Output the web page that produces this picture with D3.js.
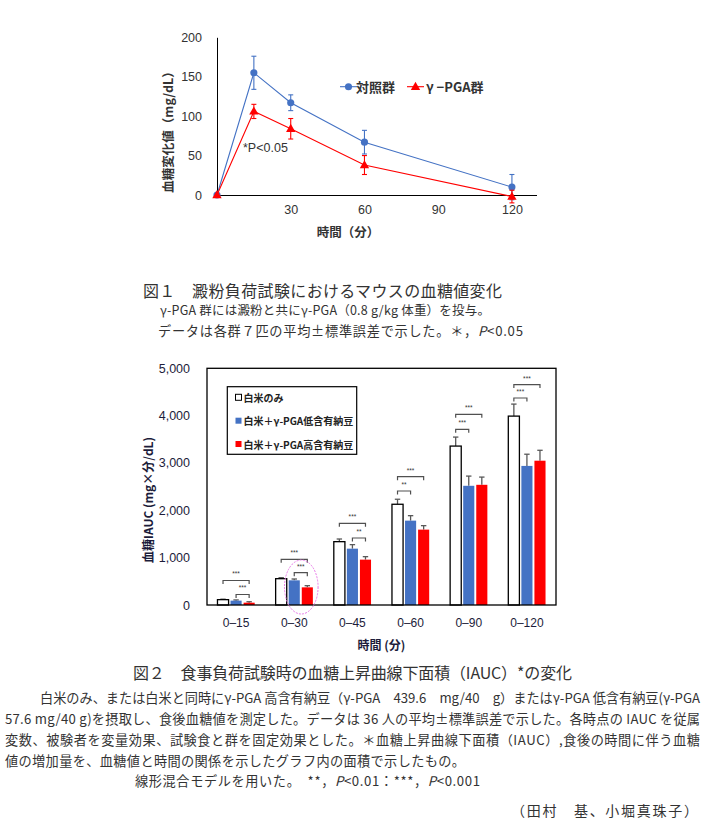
<!DOCTYPE html>
<html><head><meta charset="utf-8">
<script src="https://cdn.jsdelivr.net/npm/d3@7"></script>
<style>
html,body{margin:0;padding:0;background:#fff;}
svg{display:block;}
</style></head>
<body>
<svg id="c" width="705" height="830"></svg>
<script>
// ---------- Figure 1 data (line chart) ----------
const lineTimes = [0, 15, 30, 60, 120];
const controlMean = [0, 155, 117, 67, 10];
const controlSE = [0, 21, 10, 15, 16];
const pgaMean = [0, 106, 84, 38, -2];
const pgaSE = [0, 9, 13, 12, 8];
const lineYTicks = [0, 50, 100, 150, 200];
const lineXTicks = [30, 60, 90, 120];
const lineSeriesNames = ["対照群", "γ −PGA群"];

// ---------- Figure 2 data (bar chart) ----------
const periods = ["0–15", "0–30", "0–45", "0–60", "0–90", "0–120"];
const barSeriesNames = ["白米のみ", "白米＋γ-PGA低含有納豆", "白米＋γ-PGA高含有納豆"];
const riceOnly = [113, 556, 1338, 2128, 3357, 3990];
const riceOnlySE = [10, 21, 56, 106, 190, 254];
const lowNatto = [92, 521, 1190, 1782, 2518, 2938];
const lowNattoSE = [15, 28, 85, 105, 205, 247];
const highNatto = [49, 373, 958, 1592, 2539, 3048];
const highNattoSE = [20, 35, 63, 84, 163, 220];
const barTicks = [0, 1000, 2000, 3000, 4000, 5000];
// significance brackets: group index, from series, to series, level (data units), label
const bracketPeriod = [0, 0, 1, 1, 2, 2, 3, 3, 4, 4, 5, 5];
const bracketFrom   = [0, 1, 0, 1, 0, 1, 0, 0, 0, 0, 0, 0];
const bracketTo     = [2, 2, 2, 2, 2, 2, 2, 1, 2, 1, 2, 1];
const bracketLevel  = [518, 222, 965, 682, 1726, 1415, 2710, 2408, 4028, 3711, 4656, 4373];
const bracketLabel  = ["***", "***", "***", "***", "***", "**", "***", "**", "***", "***", "***", "***"];

const svg = d3.select("#c");
const CJK = "'Noto Sans CJK JP', sans-serif";
const LAT = "'Liberation Sans', Arial, sans-serif";

// ================= Figure 1 =================
const x1 = d3.scaleLinear().domain([0, 130]).range([217, 536.5]);
const y1 = d3.scaleLinear().domain([0, 200]).range([195, 37.3]);
const g1 = svg.append("g");

const yAx1 = g1.append("g").attr("transform", `translate(${x1(0)},0)`)
  .call(d3.axisLeft(y1).tickValues(lineYTicks).tickSize(0).tickSizeOuter(0).tickPadding(15));
const xAx1 = g1.append("g").attr("transform", `translate(0,${y1(0)})`)
  .call(d3.axisBottom(x1).tickValues(lineXTicks).tickSize(0).tickSizeOuter(0).tickPadding(10));
[yAx1, xAx1].forEach(a => {
  a.select(".domain").attr("stroke", "#000").attr("stroke-width", 1);
  a.selectAll("text").attr("font-family", LAT).attr("font-size", 12.5).attr("fill", "#333");
});

const blue = "#4472C4", red = "#FF0000";
const lineGen = d3.line().x(d => x1(d.t)).y(d => y1(d.v));
const ctrl = lineTimes.map((t, i) => ({ t, v: controlMean[i], e: controlSE[i] }));
const pga = lineTimes.map((t, i) => ({ t, v: pgaMean[i], e: pgaSE[i] }));

function drawSeries(data, color, shape) {
  g1.append("path").datum(data).attr("d", lineGen).attr("fill", "none")
    .attr("stroke", color).attr("stroke-width", 1.1);
  const eb = g1.append("g").attr("stroke", color).attr("stroke-width", 1.1);
  data.filter(d => d.e > 0).forEach(d => {
    eb.append("line").attr("x1", x1(d.t)).attr("x2", x1(d.t)).attr("y1", y1(d.v - d.e)).attr("y2", y1(d.v + d.e));
    [d.v - d.e, d.v + d.e].forEach(v => eb.append("line")
      .attr("x1", x1(d.t) - 2.5).attr("x2", x1(d.t) + 2.5).attr("y1", y1(v)).attr("y2", y1(v)));
  });
  const sym = d3.symbol().type(shape === "c" ? d3.symbolCircle : d3.symbolTriangle).size(shape === "c" ? 40 : 38);
  g1.append("g").selectAll("path").data(data).join("path")
    .attr("d", sym).attr("transform", d => `translate(${x1(d.t)},${y1(d.v) + (shape === "c" ? 0 : 0.5)})`)
    .attr("fill", color);
}
drawSeries(ctrl, blue, "c");
drawSeries(pga, red, "t");

// legend
const leg1 = g1.append("g");
[[340, blue, "c", lineSeriesNames[0], 356], [407, red, "t", lineSeriesNames[1], 426]].forEach(([lx, col, sh, name, tx]) => {
  leg1.append("line").attr("x1", lx).attr("x2", lx + 17).attr("y1", 86.7).attr("y2", 86.7).attr("stroke", col).attr("stroke-width", 1.1);
  leg1.append("path").attr("d", d3.symbol().type(sh === "c" ? d3.symbolCircle : d3.symbolTriangle).size(sh === "c" ? 40 : 38))
    .attr("transform", `translate(${lx + 8.5},${86.7 + (sh === "c" ? 0 : 0.5)})`).attr("fill", col);
  leg1.append("text").attr("x", tx).attr("y", 86.7).attr("dominant-baseline", "central")
    .attr("font-family", CJK).attr("font-size", 13).attr("font-weight", "bold").attr("fill", "#333").text(name);
});

g1.append("text").attr("x", 243).attr("y", 148).attr("dominant-baseline", "central")
  .attr("font-family", LAT).attr("font-size", 12.5).attr("fill", "#333").text("*P<0.05");

g1.append("text").attr("transform", "translate(167,129) rotate(-90)").attr("text-anchor", "middle")
  .attr("dominant-baseline", "central").attr("font-family", CJK).attr("font-size", 12.5).attr("font-weight", "bold")
  .attr("fill", "#333").text("血糖変化値（mg/dL）");
g1.append("text").attr("x", 348).attr("y", 231).attr("text-anchor", "middle").attr("dominant-baseline", "central")
  .attr("font-family", CJK).attr("font-size", 12.5).attr("font-weight", "bold").attr("fill", "#333").text("時間（分）");

// ================= captions =================
function cap(txt, x, y, size, len) {
  const t = svg.append("text").attr("x", x).attr("y", y).attr("dominant-baseline", "central")
    .attr("font-family", CJK).attr("font-size", size).attr("fill", "#333");
  if (len) t.attr("textLength", len).attr("lengthAdjust", "spacing");
  return t;
}
cap("", 143, 289.5, 16, 359).text("図１　澱粉負荷試験におけるマウスの血糖値変化");
cap("", 160, 309.5, 12.5, 330).text("γ-PGA 群には澱粉と共にγ-PGA（0.8 g/kg 体重）を投与。");
{
  const t = cap("", 158, 329.5, 13.2, 365);
  t.append("tspan").text("データは各群７匹の平均±標準誤差で示した。＊，");
  t.append("tspan").attr("font-style", "italic").text("P");
  t.append("tspan").text("<0.05");
}

// ================= Figure 2 =================
const x0 = d3.scaleBand().domain(periods).range([207, 556]).paddingInner(0.36).paddingOuter(0.18);
const xs = d3.scaleBand().domain([0, 1, 2]).range([0, x0.bandwidth()]).paddingInner(0.15);
const y2 = d3.scaleLinear().domain([0, 5000]).range([605, 368.3]);
const g2 = svg.append("g");

const seriesVals = [riceOnly, lowNatto, highNatto];
const seriesSE = [riceOnlySE, lowNattoSE, highNattoSE];
const fills = ["#FFFFFF", blue, red];

const yAx2 = g2.append("g").attr("transform", "translate(207,0)")
  .call(d3.axisLeft(y2).tickValues(barTicks).tickFormat(d3.format(",")).tickSize(0).tickPadding(17));
yAx2.select(".domain").remove();
yAx2.selectAll("text").attr("font-family", LAT).attr("font-size", 12.5).attr("fill", "#1c1c3a");

const xAx2 = g2.append("g").attr("transform", "translate(0,605)")
  .call(d3.axisBottom(x0).tickSize(0).tickPadding(13));
xAx2.select(".domain").remove();
xAx2.selectAll("text").attr("font-family", LAT).attr("font-size", 12).attr("fill", "#1c1c3a");

// bars
periods.forEach((p, i) => {
  [0, 1, 2].forEach(s => {
    const v = seriesVals[s][i], e = seriesSE[s][i];
    const bx = x0(p) + xs(s), bw = xs.bandwidth();
    const cx = bx + bw / 2;
    g2.append("line").attr("x1", cx).attr("x2", cx).attr("y1", y2(v)).attr("y2", y2(v + e))
      .attr("stroke", "#595959").attr("stroke-width", 1.3);
    g2.append("line").attr("x1", cx - 2.7).attr("x2", cx + 2.7).attr("y1", y2(v + e)).attr("y2", y2(v + e))
      .attr("stroke", "#595959").attr("stroke-width", 1.3);
    g2.append("rect").attr("x", bx).attr("y", y2(v)).attr("width", bw).attr("height", y2(0) - y2(v))
      .attr("fill", fills[s]).attr("stroke", s === 0 ? "#000" : "none").attr("stroke-width", 1.3);
  });
});

// brackets
bracketPeriod.forEach((pi, k) => {
  const p = periods[pi];
  const xa = x0(p) + xs(bracketFrom[k]) + xs.bandwidth() / 2;
  const xb = x0(p) + xs(bracketTo[k]) + xs.bandwidth() / 2;
  const yy = y2(bracketLevel[k]);
  g2.append("path").attr("d", `M${xa},${yy + 3.5}V${yy}H${xb}V${yy + 3.5}`)
    .attr("fill", "none").attr("stroke", "#505050").attr("stroke-width", 1.2);
  g2.append("text").attr("x", (xa + xb) / 2).attr("y", yy - 6.5).attr("text-anchor", "middle")
    .attr("dominant-baseline", "central").attr("font-family", LAT).attr("font-size", 6.5)
    .attr("fill", "#333").text(bracketLabel[k]);
});

// frame
g2.append("rect").attr("x", 207).attr("y", y2(5000)).attr("width", 349).attr("height", y2(0) - y2(5000))
  .attr("fill", "none").attr("stroke", "#000").attr("stroke-width", 1.3);

// highlight ellipse around 0–30 treatment bars
{
  const p = periods[1];
  const cx = (x0(p) + xs(1) + x0(p) + xs(2) + xs.bandwidth()) / 2 + 0.5;
  g2.append("ellipse").attr("cx", cx).attr("cy", 587).attr("rx", 16.8).attr("ry", 27)
    .attr("fill", "none").attr("stroke", "#E87AE8").attr("stroke-width", 1).attr("stroke-dasharray", "2,1.2");
}

// legend
const leg2 = g2.append("g");
leg2.append("rect").attr("x", 227.3).attr("y", 386.7).attr("width", 129.4).attr("height", 67.6)
  .attr("fill", "#fff").attr("stroke", "#000").attr("stroke-width", 1.2);
barSeriesNames.forEach((n, i) => {
  const ly = [397.3, 420.7, 444][i];
  leg2.append("rect").attr("x", 235.5).attr("y", ly - 3).attr("width", 6).attr("height", 6)
    .attr("fill", fills[i]).attr("stroke", i === 0 ? "#000" : "none").attr("stroke-width", 1);
  leg2.append("text").attr("x", 243.5).attr("y", ly).attr("dominant-baseline", "central")
    .attr("font-family", CJK).attr("font-size", 10).attr("font-weight", "bold").attr("fill", "#222").text(n);
});

g2.append("text").attr("transform", "translate(147,500) rotate(-90)").attr("text-anchor", "middle")
  .attr("dominant-baseline", "central").attr("font-family", CJK).attr("font-size", 12).attr("font-weight", "bold")
  .attr("fill", "#1c1c3a").text("血糖IAUC (mg×分/dL)");
g2.append("text").attr("x", 381.5).attr("y", 644).attr("text-anchor", "middle").attr("dominant-baseline", "central")
  .attr("font-family", CJK).attr("font-size", 12).attr("font-weight", "bold").attr("fill", "#1c1c3a").text("時間 (分)");

// ================= Figure 2 captions =================
cap("", 133, 671.5, 16, 439).text("図２　食事負荷試験時の血糖上昇曲線下面積（IAUC）*の変化");
cap("", 40, 697.3, 13.2, 660).text("白米のみ、または白米と同時にγ-PGA 高含有納豆（γ-PGA　439.6　mg/40　g）またはγ-PGA 低含有納豆(γ-PGA");
cap("", 5, 718.3, 13.2, 695).text("57.6 mg/40 g)を摂取し、食後血糖値を測定した。データは 36 人の平均±標準誤差で示した。各時点の IAUC を従属");
cap("", 5, 739.3, 13.2, 695).text("変数、被験者を変量効果、試験食と群を固定効果とした。＊血糖上昇曲線下面積（IAUC）,食後の時間に伴う血糖");
cap("", 5, 760, 13.2, 460).text("値の増加量を、血糖値と時間の関係を示したグラフ内の面積で示したもの。");
{
  const t = cap("", 135, 780, 13.2, 345);
  t.append("tspan").text("線形混合モデルを用いた。　**，");
  t.append("tspan").attr("font-style", "italic").text("P");
  t.append("tspan").text("<0.01：***，");
  t.append("tspan").attr("font-style", "italic").text("P");
  t.append("tspan").text("<0.001");
}
cap("", 511, 810, 14, 187).text("（田村　基、小堀真珠子）");
</script>
</body></html>
